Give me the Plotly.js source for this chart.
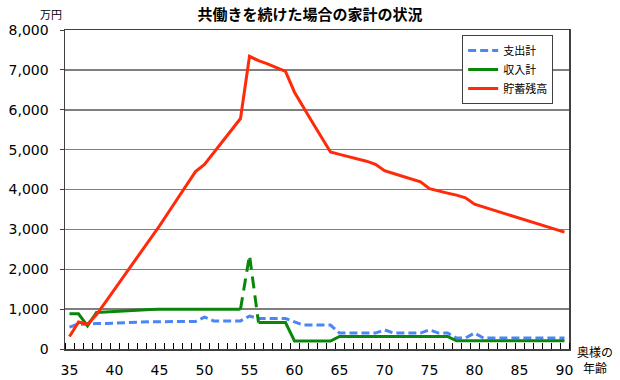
<!DOCTYPE html>
<html>
<head>
<meta charset="utf-8">
<script src="https://cdn.plot.ly/plotly-3.0.1.min.js"></script>
<style>html,body{margin:0;padding:0;background:#fff;}#chart{width:620px;height:380px;}</style>
</head>
<body>
<div id="chart"></div>
<script>
// 奥様の年齢
const ages = [35,36,37,38,39,40,41,42,43,44,45,46,47,48,49,50,51,52,53,54,55,56,57,58,59,60,61,62,63,64,65,66,67,68,69,70,71,72,73,74,75,76,77,78,79,80,81,82,83,84,85,86,87,88,89,90];
// 支出計 (万円)
const expense = [550,625,620,640,640,650,660,675,680,685,685,685,690,690,690,800,705,705,705,705,825,765,765,765,765,680,600,600,600,600,400,400,400,400,400,480,400,400,400,400,480,400,400,275,275,400,275,275,275,275,275,275,275,275,275,275];
// 収入計 (万円)
const income = [882,882,580,915,930,945,960,970,980,990,1000,1000,1000,1000,1000,1000,1000,1000,1000,1000,2350,665,665,665,665,200,200,200,200,200,315,315,315,315,315,315,315,315,315,315,315,315,315,207,207,207,207,207,207,207,207,207,207,207,207,207];
// 貯蓄残高 (万円)
const savings = [315,675,620,865,1175,1490,1810,2130,2445,2760,3090,3430,3770,4110,4450,4630,4920,5210,5500,5780,7340,7230,7150,7060,6960,6440,6050,5680,5310,4940,4880,4820,4760,4710,4630,4470,4400,4330,4260,4190,4020,3960,3910,3860,3790,3630,3560,3500,3430,3360,3290,3220,3150,3080,3010,2930];
const xTickVals = [35,40,45,50,55,60,65,70,75,80,85,90];
const yTickVals = [0,1000,2000,3000,4000,5000,6000,7000,8000];
const seriesNames = ['支出計','収入計','貯蓄残高'];

// income: solid except the spike at 55, which is drawn dashed
const spikeAge = 55;
const iSpike = ages.indexOf(spikeAge);
const incomeSolid = income.map((v,i)=> i===iSpike ? null : v);
const spikeX = ages.slice(iSpike-1, iSpike+2);
const spikeY = income.slice(iSpike-1, iSpike+2);

const traces = [
  {x: ages, y: expense, name: seriesNames[0], type:'scatter', mode:'lines',
   line:{color:'#4a86f5', width:3, dash:'8px,4px'}},
  {x: ages, y: incomeSolid, name: seriesNames[1], type:'scatter', mode:'lines', connectgaps:false,
   line:{color:'#0a870a', width:3}},
  {x: spikeX, y: spikeY, name: seriesNames[1], type:'scatter', mode:'lines', showlegend:false,
   line:{color:'#0a870a', width:3, dash:'12px,7px'}},
  {x: ages, y: savings, name: seriesNames[2], type:'scatter', mode:'lines',
   line:{color:'#ff2a0a', width:3}}
];

const layout = {
  width:620, height:380,
  margin:{l:65, r:51, t:30, b:31},
  paper_bgcolor:'#fff', plot_bgcolor:'#fff',
  font:{family:'"Noto Sans CJK JP", "DejaVu Sans", sans-serif', color:'#000'},
  title:{text:'<b>共働きを続けた場合の家計の状況</b>', x:0.5, xref:'container', y:0.962, yref:'container', yanchor:'middle',
         font:{size:15, color:'#000', family:'"Noto Sans CJK JP", sans-serif'}},
  showlegend:true,
  legend:{x:0.788, y:0.984, xanchor:'left', yanchor:'top', bgcolor:'#fff', bordercolor:'#404040', borderwidth:1,
          font:{size:11, family:'"Noto Sans CJK JP", sans-serif'}, traceorder:'normal'},
  xaxis:{range:[34.5,90.5], tickmode:'array', tickvals:xTickVals, ticks:'', showgrid:false, zeroline:false,
         showline:true, mirror:true, linecolor:'#404040', linewidth:1.5, ticklabelstandoff:8,
         tickfont:{size:14, family:'"DejaVu Sans", sans-serif'},
         minor:{ticks:'inside', ticklen:6, tickwidth:1, tickcolor:'#000', tick0:34.5, dtick:1, showgrid:false}},
  yaxis:{range:[0,8000], tickmode:'array', tickvals:yTickVals, tickformat:',d', showgrid:true, gridcolor:'#7f7f7f', gridwidth:1.5,
         zeroline:false, showline:true, mirror:true, linecolor:'#404040', linewidth:1.5,
         ticks:'outside', ticklen:4, tickcolor:'#404040', ticklabelstandoff:8,
         tickfont:{size:14, family:'"DejaVu Sans", sans-serif'}},
  annotations:[
    {text:'万円', xref:'paper', yref:'paper', x:0, y:1, xanchor:'right', yanchor:'bottom', xshift:-1, yshift:6, showarrow:false,
     font:{size:11, family:'"Noto Sans CJK JP", sans-serif'}},
    {text:'奥様の<br>年齢', xref:'paper', yref:'paper', x:1, y:0, xanchor:'left', yanchor:'top', xshift:6, yshift:8, showarrow:false,
     align:'center', font:{size:12, family:'"Noto Sans CJK JP", sans-serif'}}
  ]
};

Plotly.newPlot('chart', traces, layout, {displayModeBar:false, staticPlot:true});
</script>
</body>
</html>
